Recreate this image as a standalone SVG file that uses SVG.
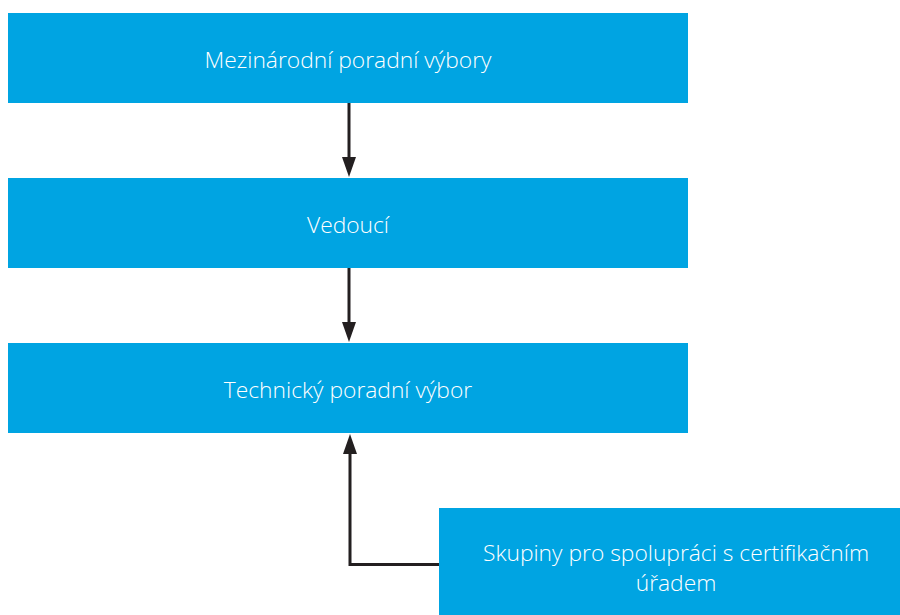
<svg xmlns="http://www.w3.org/2000/svg" width="900" height="615" viewBox="0 0 900 615">
  <style>
    .box { fill: #00a4e2; }
    .lbl { font-family: "Open Sans", "Noto Sans", "DejaVu Sans", sans-serif; font-size: 22.8px; font-weight: 300; fill: #ffffff; text-anchor: middle; }
    .wire { stroke: #231f20; stroke-width: 3; fill: none; }
    .tip { fill: #231f20; }
  </style>
  <rect width="900" height="615" fill="#ffffff"/>

  <g id="connectors">
    <path class="wire" d="M349,103 V160"/>
    <path class="tip" d="M342,157 L356,157 L349,177 Z"/>
    <path class="wire" d="M349,268 V325"/>
    <path class="tip" d="M342,322 L356,322 L349,342 Z"/>
    <path class="wire" d="M439,564.5 H350 V452"/>
    <path class="tip" d="M343,454 L357,454 L350,434 Z"/>
  </g>

  <g id="node-international">
    <rect class="box" x="8" y="13" width="680" height="90"/>
    <text class="lbl" x="348" y="68">Mezinárodní poradní výbory</text>
  </g>
  <g id="node-lead">
    <rect class="box" x="8" y="178" width="680" height="90"/>
    <text class="lbl" x="348" y="233">Vedoucí</text>
  </g>
  <g id="node-technical">
    <rect class="box" x="8" y="343" width="680" height="90"/>
    <text class="lbl" x="348" y="398">Technický poradní výbor</text>
  </g>
  <g id="node-ca-groups">
    <rect class="box" x="439" y="508" width="461" height="107"/>
    <text class="lbl" x="676" y="561">Skupiny pro spolupráci s certifikačním</text>
    <text class="lbl" x="676" y="591">úřadem</text>
  </g>
</svg>
